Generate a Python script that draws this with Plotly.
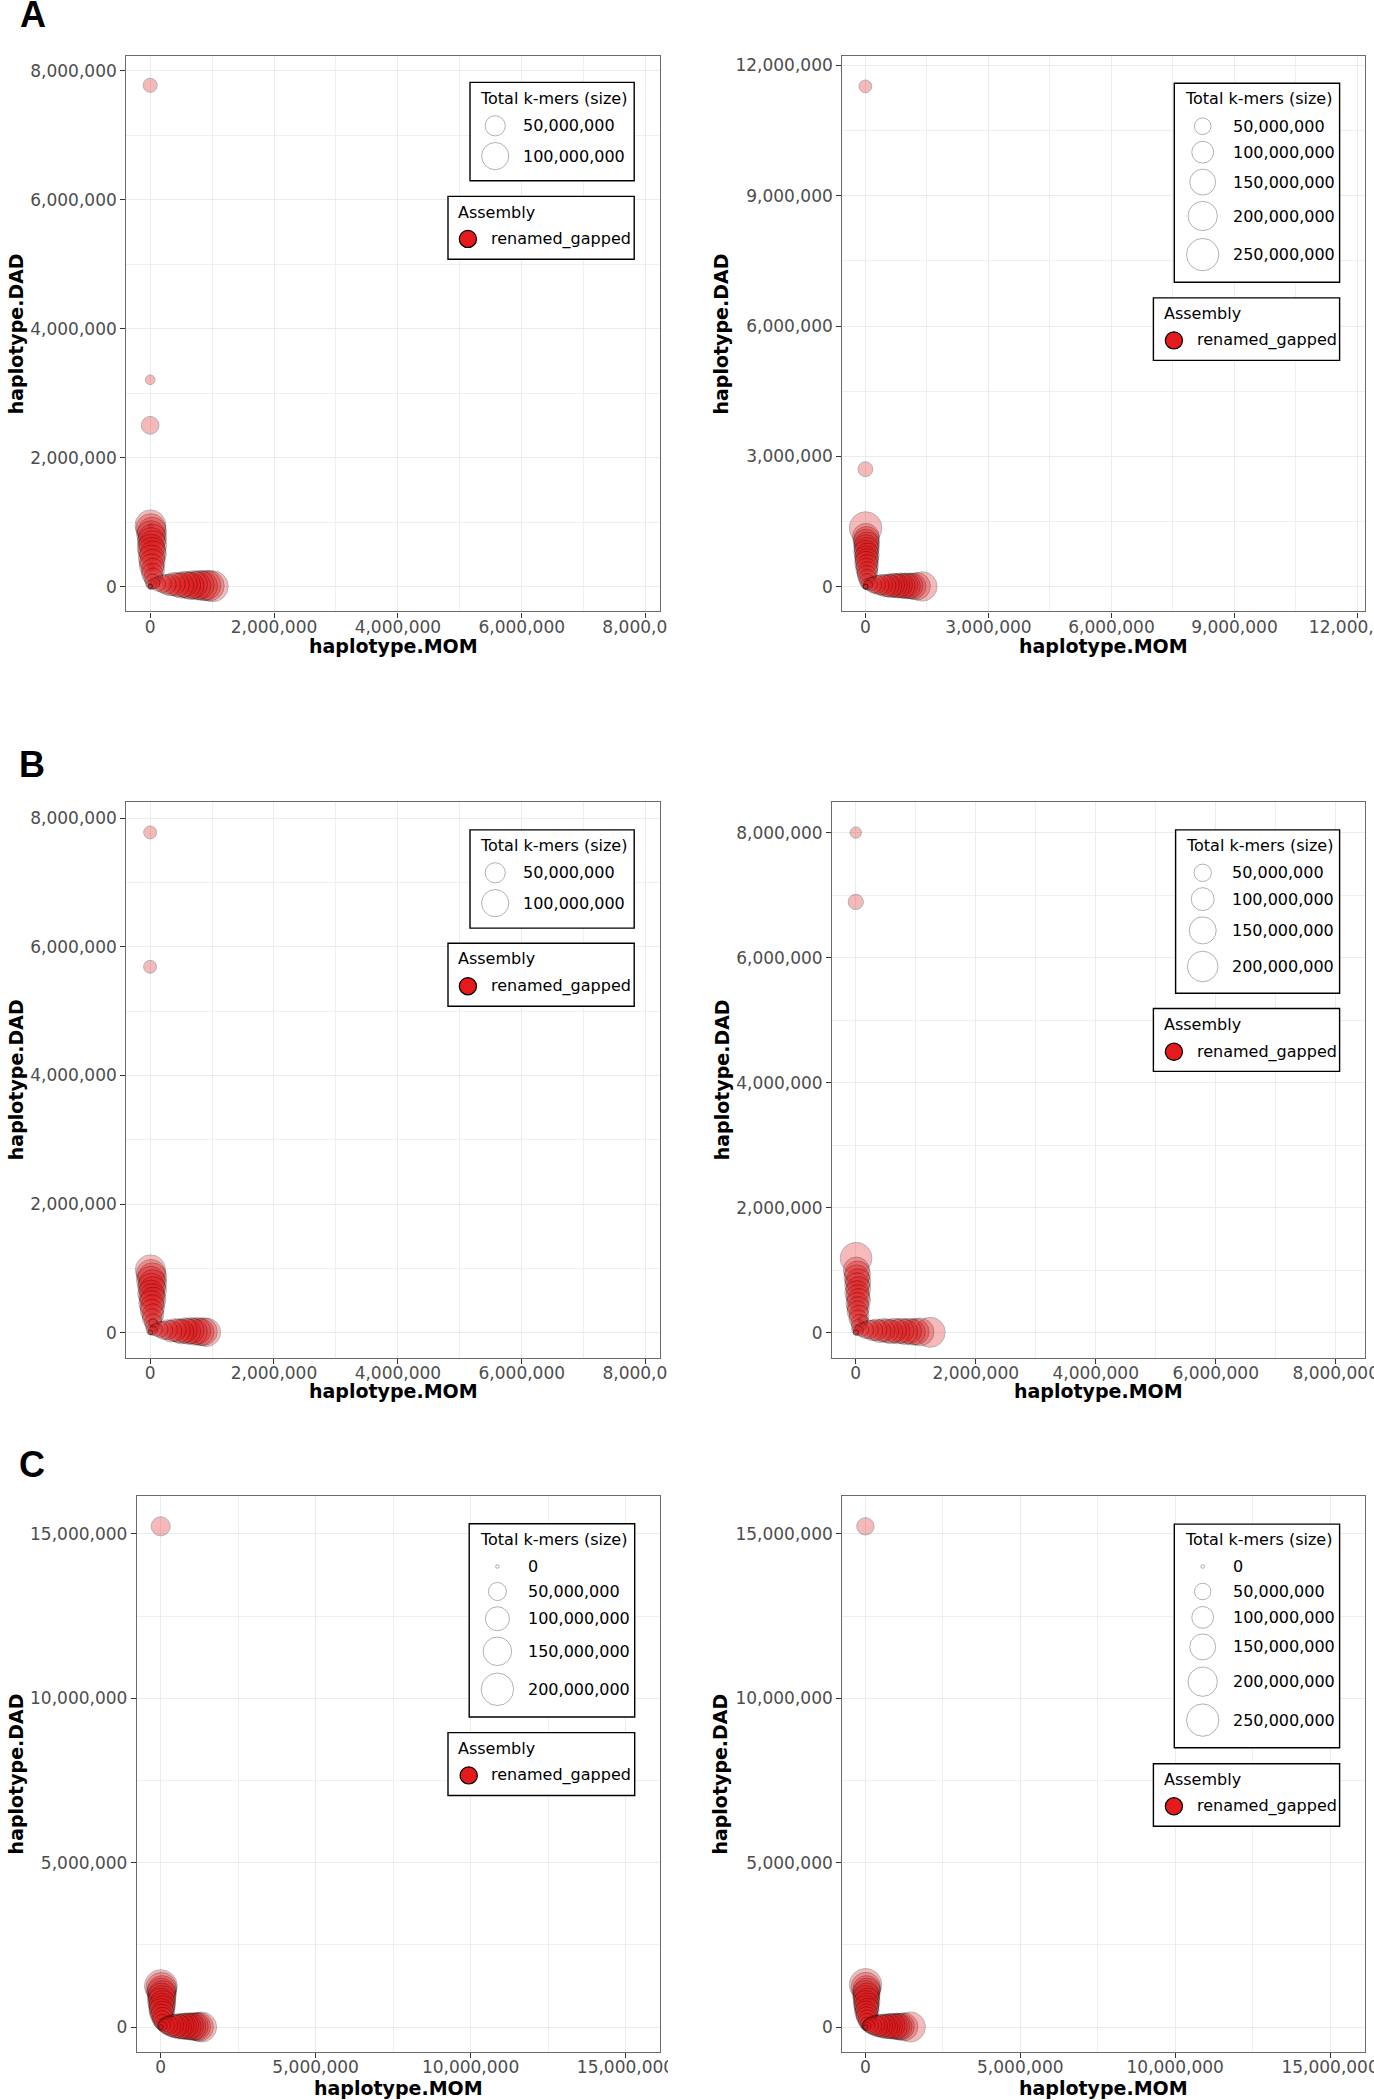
import math
import plotly.graph_objects as go

W, H = 1374, 2100

# ---------------- data ----------------
# haplotype.MOM / haplotype.DAD in thousands of k-mers, total k-mers in millions
# Panel A, left
A1_mom_k = [5, 8, 10, 30, 15, 35, 20, 40, 12, 30, 45, 22, 35, 18, 25, 45, 35, 50, 40, 20,
            1010, 950, 900, 850, 800, 750, 700, 650, 600, 550, 500, 440, 380, 320, 260, 200, 130, 70,
            0, 4, 2, 0, 0, 0]
A1_dad_k = [950, 940, 900, 850, 800, 750, 700, 650, 600, 550, 500, 440, 380, 300, 320, 260, 200, 140, 80, 30,
            5, 12, 20, 10, 25, 15, 30, 12, 22, 35, 18, 28, 40, 25, 35, 45, 40, 50,
            0, 3, 5, 7774, 3207, 2501]
A1_total_m = [132, 0.6, 122, 116, 112, 108, 104, 106, 100, 102, 96, 92, 86, 1.2, 78, 68, 56, 42, 24, 8,
              134, 128, 124, 120, 116, 110, 106, 100, 96, 90, 84, 76, 68, 58, 48, 36, 22, 10,
              0.1, 0.3, 0.2, 20, 7, 36]

# Panel A, right
A2_mom_k = [5, 10, 30, 15, 40, 20, 35, 12, 45, 25, 38, 18, 42, 30, 50, 35, 45, 40, 25,
            1390, 1250, 1160, 1090, 1030, 970, 910, 850, 790, 730, 670, 610, 550, 480, 410, 340, 270, 200, 130, 60,
            0, 3, 6, 0, 0]
A2_dad_k = [1350, 1150, 1090, 1030, 970, 910, 850, 790, 730, 670, 610, 550, 480, 410, 340, 270, 200, 130, 60,
            5, 10, 8, 20, 12, 28, 15, 32, 18, 25, 40, 14, 30, 22, 45, 35, 48, 40, 55, 35,
            0, 4, 2, 11520, 2705]
A2_total_m = [255, 160, 146, 142, 138, 134, 130, 126, 122, 118, 114, 110, 104, 96, 86, 72, 56, 38, 16,
              200, 170, 150, 146, 142, 138, 134, 130, 126, 122, 118, 112, 106, 98, 88, 76, 62, 46, 28, 10,
              0.2, 0.4, 0.3, 24, 37]

# Panel B, left
B1_mom_k = [5, 15, 35, 10, 40, 22, 45, 15, 32, 48, 20, 38, 28, 45, 35, 50, 40, 20, 50,
            910, 860, 810, 760, 710, 660, 610, 560, 510, 460, 400, 340, 280, 220, 160, 100, 45,
            0, 4, 0, 0]
B1_dad_k = [975, 910, 860, 810, 760, 710, 660, 610, 560, 510, 460, 400, 340, 280, 220, 160, 100, 45, 150,
            5, 15, 8, 25, 12, 30, 18, 35, 14, 28, 40, 22, 45, 35, 50, 45, 30,
            0, 3, 7780, 5690]
B1_total_m = [125, 118, 114, 110, 106, 102, 98, 94, 90, 86, 82, 76, 68, 58, 46, 34, 20, 8, 5,
              109, 104, 100, 98, 94, 90, 86, 82, 78, 72, 66, 58, 48, 38, 28, 16, 6,
              0.2, 0.5, 16, 16]

# Panel B, right
B2_mom_k = [5, 10, 30, 15, 40, 22, 45, 18, 35, 50, 25, 42, 30, 55, 40, 60, 45, 20, 130,
            1240, 1070, 1000, 940, 880, 820, 760, 700, 640, 580, 520, 460, 400, 340, 280, 220, 160, 100, 45,
            0, 3, 0, 0]
B2_dad_k = [1190, 1000, 940, 880, 820, 760, 700, 640, 580, 520, 460, 400, 340, 280, 220, 160, 100, 45, 200,
            5, 10, 15, 8, 25, 12, 30, 18, 35, 14, 28, 40, 22, 45, 35, 50, 40, 48, 30,
            0, 5, 8000, 6890]
B2_total_m = [217, 136, 132, 128, 124, 120, 116, 112, 108, 104, 98, 90, 80, 70, 58, 44, 28, 10, 9,
              191, 160, 140, 136, 132, 128, 124, 120, 116, 112, 108, 102, 96, 86, 74, 60, 44, 26, 10,
              0.2, 0.5, 14.5, 35]

# Panel C, left
C1_mom_k = [5, 20, 40, 15, 50, 25, 45, 10, 55, 30, 45, 20, 55, 35, 60, 45, 50, 30,
            1320, 1240, 1160, 1090, 1020, 950, 880, 810, 740, 670, 600, 530, 460, 390, 320, 250, 180, 110, 50,
            0, 5, 0]
C1_dad_k = [1250, 1200, 1130, 1060, 990, 920, 850, 780, 710, 640, 570, 500, 430, 360, 290, 220, 150, 80,
            5, 10, 15, 25, 12, 30, 18, 40, 22, 35, 14, 45, 28, 50, 32, 55, 45, 50, 30,
            0, 5, 15230]
C1_total_m = [205, 175, 152, 148, 144, 140, 136, 130, 126, 120, 114, 106, 96, 84, 70, 54, 36, 16,
              167, 150, 140, 136, 132, 128, 124, 120, 116, 110, 104, 98, 90, 80, 68, 54, 38, 22, 8,
              0, 0.5, 57]

# Panel C, right
C2_mom_k = [5, 15, 35, 50, 12, 40, 22, 55, 18, 45, 30, 60, 25, 50, 40, 60, 50, 45, 20,
            1450, 1240, 1150, 1080, 1010, 940, 870, 800, 730, 660, 590, 520, 450, 380, 310, 240, 170, 100, 45,
            0, 5, 0]
C2_dad_k = [1290, 1220, 1150, 1080, 1010, 940, 870, 800, 730, 660, 590, 520, 450, 380, 310, 240, 170, 100, 40,
            5, 10, 20, 12, 30, 18, 40, 22, 35, 14, 45, 28, 50, 32, 55, 45, 50, 40, 20,
            0, 5, 15230]
C2_total_m = [252, 200, 170, 164, 160, 156, 152, 146, 140, 134, 128, 120, 110, 98, 84, 68, 50, 30, 10,
              210, 180, 160, 154, 150, 146, 142, 136, 130, 124, 118, 110, 100, 90, 78, 62, 44, 26, 8,
              0, 0.5, 57]

# size-legend breaks per panel (total k-mers)
A1_breaks = [50_000_000, 100_000_000]
A2_breaks = [50_000_000, 100_000_000, 150_000_000, 200_000_000, 250_000_000]
B1_breaks = [50_000_000, 100_000_000]
B2_breaks = [50_000_000, 100_000_000, 150_000_000, 200_000_000]
C1_breaks = [0, 50_000_000, 100_000_000, 150_000_000, 200_000_000]
C2_breaks = [0, 50_000_000, 100_000_000, 150_000_000, 200_000_000, 250_000_000]

ASSEMBLY = "renamed_gapped"
X_TITLE = "haplotype.MOM"
Y_TITLE = "haplotype.DAD"
SIZE_TITLE = "Total k-mers (size)"
ASM_TITLE = "Assembly"


def k(vals):
    return [v * 1e3 for v in vals]


def m(vals):
    return [v * 1e6 for v in vals]


# ---------------- layout specs (pixels) ----------------
panels = [
    dict(mom=k(A1_mom_k), dad=k(A1_dad_k), tot=m(A1_total_m), breaks=A1_breaks,
         dom=(126.3, 660.2, 55.5, 611.4), xr=(-0.385e6, 8.235e6), yr=(-0.385e6, 8.236e6), dt=2e6,
         sa=3.3, sk=2.39,
         sbox=(470, 634.2, 82.4, 180.8), stitle=(478.4, 98.4), scy=[125.8, 156.1], scx=495.2, slx=520.7,
         abox=(448, 634.2, 196.4, 259.3), atitle=(456.4, 212.5), akey=(467.9, 238.9), alx=488.6,
         xt=(393.3, 646.1), yt=(16.3, 334), letter="A", lpos=(33, 14.5)),
    dict(mom=k(A2_mom_k), dad=k(A2_dad_k), tot=m(A2_total_m), breaks=A2_breaks,
         dom=(842.3, 1365.4, 55.5, 611.4), xr=(-0.563e6, 12.193e6), yr=(-0.569e6, 12.23e6), dt=3e6,
         sa=3.9, sk=1.796,
         sbox=(1174.3, 1339.6, 83.3, 282.3), stitle=(1182.6, 98.9), scy=[126.2, 152.2, 182.1, 216, 254.6], scx=1202.7, slx=1231,
         abox=(1153.4, 1339.6, 297.9, 360.4), atitle=(1161.6, 313.1), akey=(1173.9, 340.4), alx=1194.8,
         xt=(1103.9, 646.1), yt=(720.5, 334), letter=None),
    dict(mom=k(B1_mom_k), dad=k(B1_dad_k), tot=m(B1_total_m), breaks=B1_breaks,
         dom=(126.3, 660.2, 802.2, 1357.6), xr=(-0.384e6, 8.234e6), yr=(-0.389e6, 8.25e6), dt=2e6,
         sa=3.3, sk=2.39,
         sbox=(470, 634.2, 829.9, 928.1), stitle=(478.4, 845.1), scy=[872.8, 903.1], scx=495.2, slx=520.7,
         abox=(448, 634.2, 943.3, 1006.3), atitle=(456.4, 958.9), akey=(467.9, 986.2), alx=488.6,
         xt=(393.3, 1391), yt=(16.3, 1079.9), letter="B", lpos=(32, 764)),
    dict(mom=k(B2_mom_k), dad=k(B2_dad_k), tot=m(B2_total_m), breaks=B2_breaks,
         dom=(832.2, 1365.4, 802.2, 1357.6), xr=(-0.393e6, 8.495e6), yr=(-0.4e6, 8.486e6), dt=2e6,
         sa=4.2, sk=1.867,
         sbox=(1175.6, 1339.6, 829.9, 993.3), stitle=(1183.5, 845.1), scy=[872.8, 899.1, 930.4, 966.5], scx=1202.7, slx=1230.1,
         abox=(1153.4, 1339.6, 1008.5, 1071.4), atitle=(1161.6, 1024.6), akey=(1173.9, 1051.8), alx=1194.8,
         xt=(1098.8, 1391), yt=(721.4, 1079.9), letter=None),
    dict(mom=k(C1_mom_k), dad=k(C1_dad_k), tot=m(C1_total_m), breaks=C1_breaks,
         dom=(136.9, 660.2, 1496.4, 2051.8), xr=(-0.768e6, 16.12e6), yr=(-0.748e6, 16.14e6), dt=5e6,
         sa=3.6, sk=2.04,
         sbox=(469.2, 634.7, 1523.7, 1717), stitle=(477.6, 1539.7), scy=[1566.5, 1591.5, 1618.75, 1651.3, 1689.3], scx=497.4, slx=526,
         abox=(448, 634.7, 1732.6, 1795.5), atitle=(456.4, 1748.2), akey=(468.7, 1775.4), alx=489.4,
         xt=(398.6, 2087.5), yt=(16.3, 1774.1), letter="C", lpos=(32, 1464)),
    dict(mom=k(C2_mom_k), dad=k(C2_dad_k), tot=m(C2_total_m), breaks=C2_breaks,
         dom=(842.3, 1365.4, 1496.4, 2051.8), xr=(-0.746e6, 16.14e6), yr=(-0.75e6, 16.14e6), dt=5e6,
         sa=3.6, sk=1.82,
         sbox=(1174.3, 1339.6, 1524.1, 1747.8), stitle=(1182.6, 1539.7), scy=[1566.5, 1591.5, 1617.4, 1646.9, 1681.7, 1720.1], scx=1202.7, slx=1231,
         abox=(1153.4, 1339.6, 1763.8, 1826.3), atitle=(1161.6, 1779), akey=(1173.9, 1806.3), alx=1194.8,
         xt=(1103.9, 2087.5), yt=(720.5, 1774.1), letter=None),
]

RED = "#E41A1C"
TICK_FONT = dict(family="DejaVu Sans", size=17, color="#4d4d4d")
LEG_FONT = dict(family="DejaVu Sans", size=16, color="black")
AX_TITLE_FONT = dict(family="DejaVu Sans", size=19, color="black")


def px(x):
    return x / W


def py(y):
    return 1 - y / H


def size_scale(v, a, kk):
    # ggplot-like area scale: diameter grows with sqrt of the value
    return a + kk * math.sqrt(max(v, 0) / 1e6)


fig = go.Figure()
shapes = []
annotations = []
layout_axes = {}

for i, p in enumerate(panels, start=1):
    sx = "" if i == 1 else str(i)
    x0, x1, y0, y1 = p["dom"]
    sizes = [size_scale(v, p["sa"], p["sk"]) for v in p["tot"]]
    fig.add_trace(go.Scatter(
        x=p["mom"], y=p["dad"], mode="markers",
        xaxis="x" + sx, yaxis="y" + sx, showlegend=False, hoverinfo="skip",
        marker=dict(size=sizes, sizemode="diameter", color=RED, opacity=0.3,
                    line=dict(color="black", width=1)),
    ))
    common = dict(
        showline=True, linecolor="#6b6b6b", linewidth=1.2, mirror=True,
        ticks="outside", ticklen=5, tickwidth=1, tickcolor="#333333",
        tickmode="linear", tick0=0, dtick=p["dt"], tickformat=",",
        showgrid=True, gridcolor="#EBEBEB", gridwidth=1.4,
        minor=dict(tickmode="linear", tick0=0, dtick=p["dt"] / 2, showgrid=True,
                   gridcolor="#EFEFEF", gridwidth=0.8, ticks=""),
        zeroline=False, tickfont=TICK_FONT, automargin=False, fixedrange=True,
        ticklabeloverflow="allow",
    )
    layout_axes["xaxis" + sx] = dict(common, domain=[px(x0), px(x1)], range=list(p["xr"]),
                                     anchor="y" + sx, ticklabelstandoff=-5)
    layout_axes["yaxis" + sx] = dict(common, domain=[py(y1), py(y0)], range=list(p["yr"]),
                                     anchor="x" + sx)

    # axis titles
    annotations.append(dict(x=px(p["xt"][0]), y=py(p["xt"][1]), xref="paper", yref="paper",
                            text="<b>" + X_TITLE + "</b>", showarrow=False, font=AX_TITLE_FONT,
                            xanchor="center", yanchor="middle"))
    annotations.append(dict(x=px(p["yt"][0]), y=py(p["yt"][1]), xref="paper", yref="paper",
                            text="<b>" + Y_TITLE + "</b>", showarrow=False, font=AX_TITLE_FONT,
                            textangle=-90, xanchor="center", yanchor="middle"))
    if p["letter"]:
        annotations.append(dict(x=px(p["lpos"][0]), y=py(p["lpos"][1]), xref="paper", yref="paper",
                                text="<b>" + p["letter"] + "</b>", showarrow=False,
                                font=dict(family="Liberation Sans, Arial", size=36, color="black"),
                                xanchor="center", yanchor="middle"))

    # size legend
    bx0, bx1, by0, by1 = p["sbox"]
    shapes.append(dict(type="rect", xref="paper", yref="paper", x0=px(bx0), x1=px(bx1),
                       y0=py(by1), y1=py(by0), line=dict(color="black", width=1.4),
                       fillcolor="white", layer="above"))
    annotations.append(dict(x=px(p["stitle"][0]), y=py(p["stitle"][1]), xref="paper", yref="paper",
                            text=SIZE_TITLE, showarrow=False, font=LEG_FONT,
                            xanchor="left", yanchor="middle"))
    for b, cy in zip(p["breaks"], p["scy"]):
        r = size_scale(b, p["sa"], p["sk"]) / 2
        shapes.append(dict(type="circle", xref="paper", yref="paper",
                           x0=px(p["scx"] - r), x1=px(p["scx"] + r),
                           y0=py(cy + r), y1=py(cy - r),
                           line=dict(color="rgba(0,0,0,0.3)", width=1), layer="above"))
        annotations.append(dict(x=px(p["slx"]), y=py(cy), xref="paper", yref="paper",
                                text=f"{int(b):,}", showarrow=False, font=LEG_FONT,
                                xanchor="left", yanchor="middle"))

    # assembly legend
    bx0, bx1, by0, by1 = p["abox"]
    shapes.append(dict(type="rect", xref="paper", yref="paper", x0=px(bx0), x1=px(bx1),
                       y0=py(by1), y1=py(by0), line=dict(color="black", width=1.4),
                       fillcolor="white", layer="above"))
    annotations.append(dict(x=px(p["atitle"][0]), y=py(p["atitle"][1]), xref="paper", yref="paper",
                            text=ASM_TITLE, showarrow=False, font=LEG_FONT,
                            xanchor="left", yanchor="middle"))
    kr = 8.6
    kx, ky = p["akey"]
    shapes.append(dict(type="circle", xref="paper", yref="paper",
                       x0=px(kx - kr), x1=px(kx + kr), y0=py(ky + kr), y1=py(ky - kr),
                       fillcolor=RED, line=dict(color="black", width=1.2), layer="above"))
    annotations.append(dict(x=px(p["alx"]), y=py(ky), xref="paper", yref="paper",
                            text=ASSEMBLY, showarrow=False, font=LEG_FONT,
                            xanchor="left", yanchor="middle"))

# left-column tick labels are cut at the edge of each sub-figure
for (ya, yb) in [(613, 640), (1359, 1383), (2054, 2079)]:
    shapes.append(dict(type="rect", xref="paper", yref="paper", x0=px(668), x1=px(705),
                       y0=py(yb), y1=py(ya), line=dict(width=0), fillcolor="white", layer="above"))

fig.update_layout(
    width=W, height=H, margin=dict(l=0, r=0, t=0, b=0, pad=0),
    paper_bgcolor="white", plot_bgcolor="rgba(0,0,0,0)",
    showlegend=False, shapes=shapes, annotations=annotations, **layout_axes,
)

fig.write_html("out.html", config={"displayModeBar": False},
               post_script="document.body.style.margin='0';")
